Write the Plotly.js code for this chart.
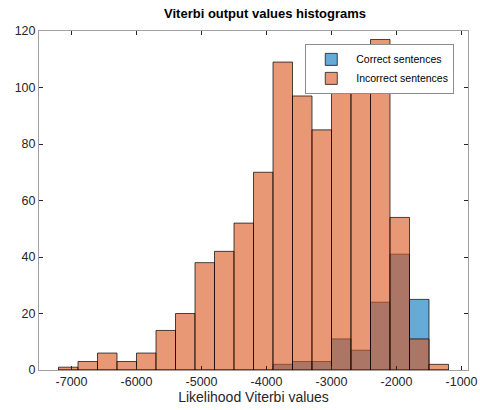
<!DOCTYPE html>
<html>
<head>
<meta charset="utf-8">
<script src="https://cdn.plot.ly/plotly-3.0.1.min.js"></script>
<style>html,body{margin:0;padding:0;background:#fff;}#chart{width:480px;height:410px;}</style>
</head>
<body>
<div id="chart"></div>
<script>
// Bin left edges (bin width 300)
const binLeftEdges = [-7200, -6900, -6600, -6300, -6000, -5700, -5400, -5100, -4800, -4500,
                      -4200, -3900, -3600, -3300, -3000, -2700, -2400, -2100, -1800, -1500];
const binWidth = 300;
// Counts per bin
const correctCounts   = [0, 0, 0, 0, 0, 0, 0, 0, 0, 0, 0, 2, 3, 3, 11, 7, 24, 41, 25, 0];
const incorrectCounts = [1, 3, 6, 3, 6, 14, 20, 38, 42, 52, 70, 109, 97, 85, 110, 115, 117, 54, 11, 2];
const seriesNames = ['Correct sentences', 'Incorrect sentences'];
const xTickVals = [-7000, -6000, -5000, -4000, -3000, -2000, -1000];
const yTickVals = [0, 20, 40, 60, 80, 100, 120];

const centers = binLeftEdges.map(e => e + binWidth / 2);
const font = 'Liberation Sans, Arial, Helvetica, sans-serif';

const traces = [
  {
    type: 'bar', name: seriesNames[0], x: centers, y: correctCounts, width: binWidth,
    marker: {color: 'rgba(0,114,189,0.6)', line: {color: 'rgba(0,0,0,0.7)', width: 1}}
  },
  {
    type: 'bar', name: seriesNames[1], x: centers, y: incorrectCounts, width: binWidth,
    marker: {color: 'rgba(217,83,25,0.6)', line: {color: 'rgba(0,0,0,0.7)', width: 1}}
  }
];

const layout = {
  width: 480, height: 410,
  margin: {l: 39, r: 12, t: 31, b: 40, pad: 0},
  paper_bgcolor: '#fff', plot_bgcolor: '#fff',
  barmode: 'overlay', bargap: 0,
  showlegend: true,
  font: {family: font, size: 12.5, color: '#262626'},
  title: {
    text: '<b>Viterbi output values histograms</b>',
    font: {family: font, size: 13, color: '#000'},
    x: 0.527, xanchor: 'center', y: 1 - 13 / 410, yanchor: 'middle', xref: 'paper', yref: 'container'
  },
  xaxis: {
    range: [-7500, -900], tickvals: xTickVals, ticktext: xTickVals.map(String),
    ticks: 'inside', ticklen: 4, tickcolor: '#262626', tickwidth: 1,
    showline: true, linecolor: '#a0a0a0', linewidth: 1, mirror: 'ticks',
    showgrid: false, zeroline: false,
    tickfont: {family: font, size: 12.5, color: '#262626'},
    title: {text: 'Likelihood Viterbi values', font: {family: font, size: 14, color: '#262626'}, standoff: 3}
  },
  yaxis: {
    range: [0, 120], tickvals: yTickVals,
    ticks: 'inside', ticklen: 4, tickcolor: '#262626', tickwidth: 1,
    showline: true, linecolor: '#a0a0a0', linewidth: 1, mirror: 'ticks',
    showgrid: false, zeroline: false,
    tickfont: {family: font, size: 12.5, color: '#262626'}
  },
  legend: {
    x: 0.968, xanchor: 'right', y: 0.962, yanchor: 'top',
    bgcolor: '#fff', bordercolor: '#8c8c8c', borderwidth: 1,
    font: {family: font, size: 10.5, color: '#000'},
    tracegroupgap: 0, itemwidth: 40
  }
};

Plotly.newPlot('chart', traces, layout, {displayModeBar: false, staticPlot: true});
</script>
</body>
</html>
